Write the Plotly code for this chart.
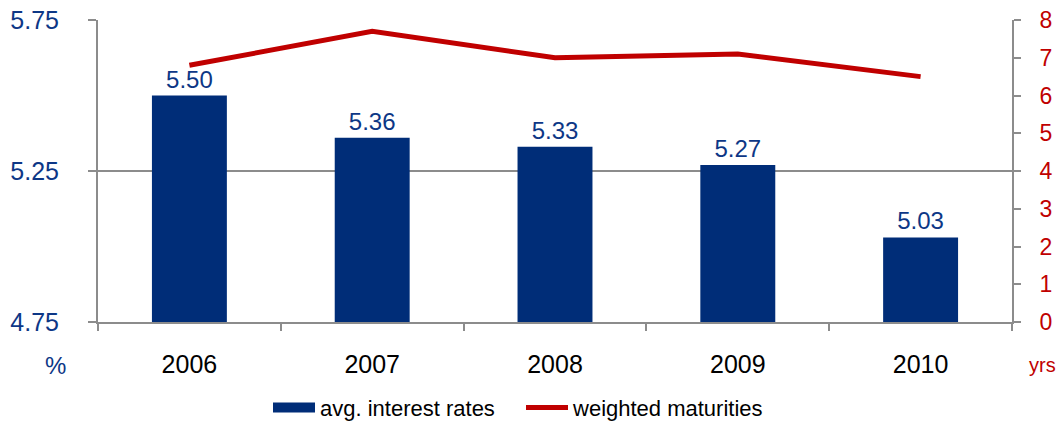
import plotly.graph_objects as go

years = ["2006", "2007", "2008", "2009", "2010"]
avg_interest_rates = [5.50, 5.36, 5.33, 5.27, 5.03]
weighted_maturities = [6.8, 7.7, 7.0, 7.1, 6.5]

rate_ticks = [4.75, 5.25, 5.75]
rate_tick_text = ["4.75", "5.25", "5.75"]
maturity_ticks = [0, 1, 2, 3, 4, 5, 6, 7, 8]

NAVY = "#002d78"
LABEL_NAVY = "#0d3786"
RED = "#c00000"
GRID = "#8c8c8c"
FONT = "Liberation Sans, Arial, sans-serif"

fig = go.Figure()

fig.add_trace(go.Bar(
    x=years, y=avg_interest_rates, name="avg. interest rates",
    marker=dict(color=NAVY, line=dict(width=0)),
    texttemplate="%{y:.2f}", textposition="outside", cliponaxis=False,
    textfont=dict(size=24, color=LABEL_NAVY, family=FONT),
    showlegend=False,
))

# wide navy swatch for the bar series in the legend
fig.add_trace(go.Scatter(
    x=[None], y=[None], name="avg. interest rates", mode="lines",
    line=dict(color=NAVY, width=14), showlegend=True,
))

fig.add_trace(go.Scatter(
    x=years, y=weighted_maturities, name="weighted maturities",
    mode="lines", line=dict(color=RED, width=5), yaxis="y2",
))

fig.update_layout(
    width=1060, height=422,
    margin=dict(l=98, r=48, t=20, b=100, autoexpand=False),
    paper_bgcolor="white", plot_bgcolor="white",
    font=dict(family=FONT, size=24, color="black"),
    bargap=0.59,
    showlegend=True,
    legend=dict(orientation="h", x=0.186, xanchor="left", y=-0.214, yanchor="top",
                font=dict(size=22, color="black"), entrywidth=196, itemwidth=42,
                traceorder="normal", bgcolor="rgba(0,0,0,0)"),
    xaxis=dict(
        showline=True, linecolor=GRID, linewidth=2,
        ticks="outside", ticklen=7, tickcolor=GRID, tickwidth=2,
        tickson="boundaries", ticklabelstandoff=19,
        tickfont=dict(size=25, color="black"),
        showgrid=False, zeroline=False,
    ),
    yaxis=dict(
        range=[4.75, 5.75], tickvals=rate_ticks, ticktext=rate_tick_text,
        showline=True, linecolor=GRID, linewidth=2,
        ticks="outside", ticklen=8, tickcolor=GRID, tickwidth=2,
        ticklabelstandoff=24,
        tickfont=dict(size=25, color=LABEL_NAVY),
        showgrid=True, gridcolor=GRID, gridwidth=2, zeroline=False,
    ),
    yaxis2=dict(
        range=[0, 8], tickvals=maturity_ticks, overlaying="y", side="right",
        showline=True, linecolor=GRID, linewidth=2,
        ticks="outside", ticklen=7, tickcolor=GRID, tickwidth=2,
        ticklabelstandoff=14,
        tickfont=dict(size=23, color=RED),
        showgrid=False, zeroline=False,
    ),
    annotations=[
        dict(text="%", xref="paper", yref="paper", x=-0.047, y=-0.143,
             showarrow=False, xanchor="center", yanchor="middle",
             font=dict(size=24, color=LABEL_NAVY)),
        dict(text="yrs", xref="paper", yref="paper", x=1.033, y=-0.143,
             showarrow=False, xanchor="center", yanchor="middle",
             font=dict(size=20, color=RED)),
    ],
)

fig.write_html("out.html")
